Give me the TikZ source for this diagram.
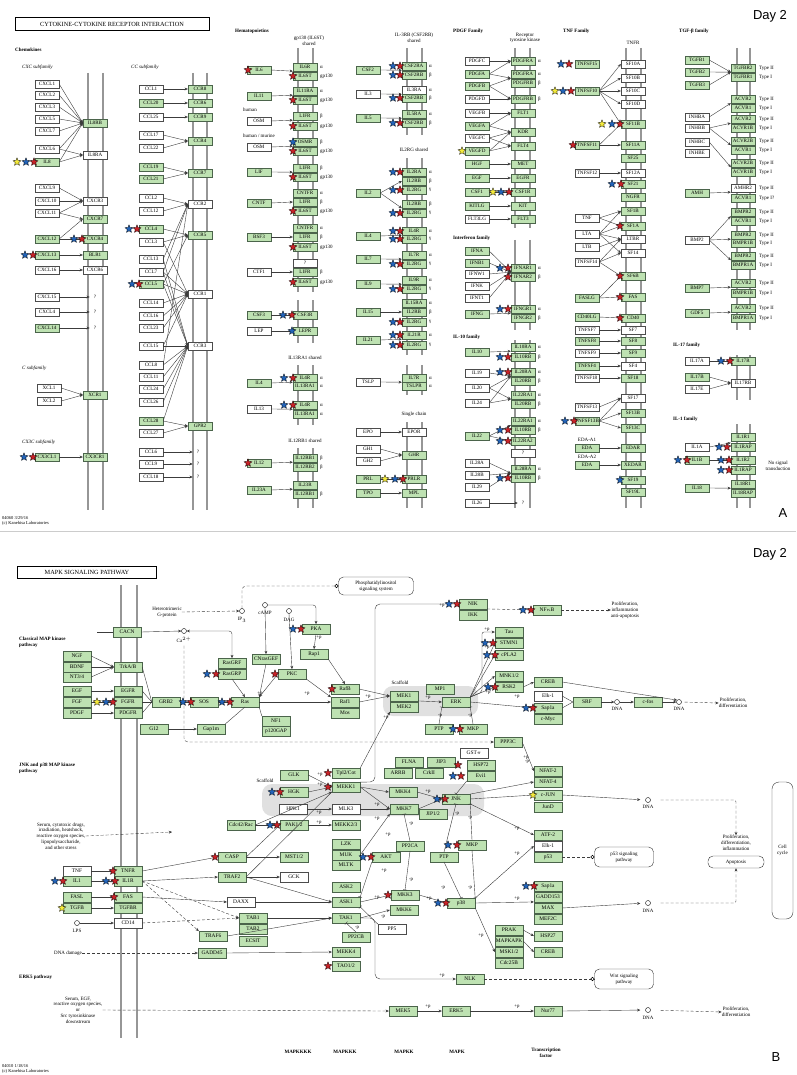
\documentclass[tikz,border=0pt]{standalone}
\usepackage{fontspec}
\setmainfont{Liberation Serif}
\newfontfamily\arialf{Liberation Sans}
\usetikzlibrary{arrows.meta}
\definecolor{kg}{RGB}{190,226,178}
\definecolor{kbd}{RGB}{75,100,75}
\definecolor{sr}{RGB}{200,35,40}
\definecolor{sb}{RGB}{35,100,185}
\definecolor{sy}{RGB}{245,235,60}
\definecolor{memc}{RGB}{150,150,150}
\definecolor{lnc}{RGB}{60,60,60}
\newcounter{lbc}
\newcommand\GB[4][tg]{\node[#1] (#2) at (#3) {#4};}
\newcommand\ST[3]{\filldraw[fill=#1,draw=black,line width=0.3pt] (#2,#3) +(-90:4.2) -- +(-54:1.8) -- +(-18:4.2) -- +(18:1.8) -- +(54:4.2) -- +(90:1.8) -- +(126:4.2) -- +(162:1.8) -- +(198:4.2) -- +(234:1.8) -- cycle;}
\newcommand\LB[3][lab]{\stepcounter{lbc}\node[#1] (lb\arabic{lbc}) at (#2) {#3};}
\newcommand\MEM[4]{\draw[meml] (#1,#3) -- (#1,#4); \draw[meml] (#2,#3) -- (#2,#4);}
\begin{document}
\begin{tikzpicture}[x=1pt,y=-1pt,
 tg/.style={draw=kbd,fill=kg,line width=0.35pt,minimum width=24pt,minimum height=8pt,inner sep=0pt,font=\fontsize{5.1}{5.4}\selectfont},
 tw/.style={tg,fill=white,draw=black!70},
 bg/.style={tg,minimum width=28pt,minimum height=9.5pt,font=\fontsize{5.4}{6}\selectfont},
 bw/.style={bg,fill=white,draw=black!70},
 lab/.style={font=\fontsize{5}{6}\selectfont,anchor=west,inner sep=0pt},
 pl/.style={font=\fontsize{4.8}{5}\selectfont,inner sep=0pt},
 txt/.style={font=\fontsize{5}{5.8}\selectfont,align=center,inner sep=0pt},
 hd/.style={font=\bfseries\fontsize{5}{5.8}\selectfont,anchor=west,inner sep=0pt,align=left},
 itx/.style={font=\itshape\fontsize{5}{6}\selectfont,anchor=west,inner sep=0pt},
 meml/.style={draw=memc,line width=1.4pt},
 ar/.style={draw=lnc,line width=0.4pt,-{Stealth[length=3.2pt,width=2.8pt]}},
 ln/.style={draw=lnc,line width=0.4pt},
 inh/.style={draw=lnc,line width=0.4pt,-{Bar[width=4pt]}},
 dsh/.style={ar,dash pattern=on 3pt off 2pt},
 dl/.style={ln,dash pattern=on 3pt off 2pt},
 cir/.style={circle,draw=black,fill=white,minimum size=5pt,inner sep=0pt,line width=0.4pt},
 scir/.style={circle,draw=black,fill=white,minimum size=3.5pt,inner sep=0pt,line width=0.4pt},
 rbox/.style={draw=black!80,rounded corners=5pt,fill=white,align=center,font=\fontsize{5}{5.8}\selectfont,line width=0.4pt,inner sep=1pt},
 qm/.style={font=\fontsize{5}{6}\selectfont,inner sep=0pt}]
\path[use as bounding box] (0,0) rectangle (796,1075);
\fill[white] (0,0) rectangle (796,1075);
\draw[black!20,line width=0.5pt] (0,531) -- (796,531);
% ================= PANEL A =================
\node[draw,line width=0.7pt,minimum width=194pt,minimum height=13pt,inner sep=0pt,font=\fontsize{6.3}{7}\selectfont] (ttlA) at (112,24) {CYTOKINE-CYTOKINE RECEPTOR INTERACTION};
\node[font=\arialf\fontsize{13}{14}\selectfont,inner sep=0pt] (dayA) at (770,16) {Day 2};
\node[font=\arialf\fontsize{13}{14}\selectfont,inner sep=0pt] (letA) at (783,513) {A};
\node[lab,align=left,font=\fontsize{4.5}{5}\selectfont] (footA) at (2,521) {04060 3/29/16\\(c) Kanehisa Laboratories};
\node[hd] (hchem) at (15,50) {Chemokines};
\node[itx] (hcxc) at (22,67) {CXC subfamily};
\node[itx] (hcc) at (131,67) {CC subfamily};
\node[itx] (hc) at (22,368) {C subfamily};
\node[itx] (hcx3c) at (22,442) {CX3C subfamily};
\node[hd] (hhem) at (235,31) {Hematopoietins};
\node[txt] (hgp) at (309,41) {gp130 (IL6ST)\\shared};
\node[txt] (hil3) at (414,38) {IL-3RB (CSF2RB)\\shared};
\node[txt] (hil2) at (414,150) {IL2RG shared};
\node[txt] (hil13) at (305,358) {IL13RA1 shared};
\node[txt] (hil12) at (305,441) {IL12RB1 shared};
\node[txt] (hsing) at (414,414) {Single chain};
\node[hd] (hpdgf) at (453,31) {PDGF Family};
\node[txt] (hrtk) at (525,38) {Receptor\\tyrosine kinase};
\node[hd] (hifn) at (453,238) {Interferon family};
\node[hd] (hil10) at (453,337) {IL-10 family};
\node[hd] (htnf) at (563,31) {TNF Family};
\node[txt] (htnfr) at (633,43) {TNFR};
\node[hd] (htgf) at (679,31) {TGF-β family};
\node[hd] (hil17) at (673,345) {IL-17 family};
\node[hd] (hil1) at (673,419) {IL-1 family};
\node[txt] (hnosig) at (778,466) {No signal\\transduction};
\node[lab] (hhum) at (243,110) {human};
\node[lab] (hhm) at (243,136) {human / murine};
\node[txt] (heda1) at (587,440) {EDA-A1};
\node[txt] (heda2) at (587,457) {EDA-A2};
% membranes
\MEM{88}{103}{73}{510}
\MEM{193}{207}{73}{510}
\MEM{298}{313}{48}{292}\MEM{298}{313}{300}{343}\MEM{298}{313}{365}{425}\MEM{298}{313}{448}{508}
\MEM{407}{422}{48}{135}\MEM{407}{422}{158}{355}\MEM{407}{422}{365}{395}\MEM{407}{422}{422}{508}
\MEM{515}{530}{48}{228}\MEM{515}{530}{240}{330}\MEM{515}{530}{340}{508}
\MEM{626}{641}{48}{508}
\MEM{737}{750}{48}{330}\MEM{737}{750}{355}{400}\MEM{737}{750}{424}{508}
% CXC
\GB[tw]{cxcl1}{47,84}{CXCL1}\GB[tw]{cxcl2}{47,95}{CXCL2}\GB[tw]{cxcl3}{47,107}{CXCL3}
\GB[tw]{cxcl5}{47,119}{CXCL5}\GB[tw]{cxcl7}{47,131}{CXCL7}\GB[tw]{cxcl6}{47,149}{CXCL6}
\GB{il8}{47,162}{IL8}\GB[tw]{cxcl9}{47,188}{CXCL9}\GB[tw]{cxcl10}{47,201}{CXCL10}
\GB[tw]{cxcl11}{47,213}{CXCL11}\GB{cxcl12}{47,239}{CXCL12}\GB{cxcl13}{47,255}{CXCL13}
\GB[tw]{cxcl16}{47,270}{CXCL16}\GB[tw]{cxcl15}{47,297}{CXCL15}\GB[tw]{cxcl4}{47,312}{CXCL4}
\GB{cxcl14}{47,328}{CXCL14}\GB[tw]{xcl1}{49,388}{XCL1}\GB[tw]{xcl2}{49,401}{XCL2}
\GB{cx3cl1}{47,457}{CX3CL1}
\GB{il8rb}{95,123}{IL8RB}\GB[tw]{il8ra}{95,155}{IL8RA}\GB[tw]{cxcr3}{95,201}{CXCR3}
\GB{cxcr7}{95,219}{CXCR7}\GB{cxcr4}{95,239}{CXCR4}\GB{blr1}{95,255}{BLR1}
\GB[tw]{cxcr6}{95,270}{CXCR6}\GB{xcr1}{95,395}{XCR1}\GB{cx3cr1}{95,457}{CX3CR1}
\node[qm] (qa1) at (95,297) {?};\node[qm] (qa2) at (95,312) {?};\node[qm] (qa3) at (95,328) {?};
\foreach \a in {cxcl1,cxcl2,cxcl3,cxcl5,cxcl7,cxcl6,il8}{\draw[ar] (\a.east) -- (il8rb.west);}
\foreach \a in {cxcl6,il8}{\draw[ar] (\a.east) -- (il8ra.west);}
\foreach \a in {cxcl9,cxcl10,cxcl11}{\draw[ar] (\a.east) -- (cxcr3.west);}
\foreach \a in {cxcl11,cxcl12}{\draw[ar] (\a.east) -- (cxcr7.west);}
\draw[ar] (cxcl12.east) -- (cxcr4.west);\draw[ar] (cxcl13.east) -- (blr1.west);
\draw[ar] (cxcl16.east) -- (cxcr6.west);
\draw[ar,shorten >=4pt] (cxcl15.east) -- (qa1.west);\draw[ar,shorten >=4pt] (cxcl4.east) -- (qa2.west);\draw[ar,shorten >=4pt] (cxcl14.east) -- (qa3.west);
\foreach \a in {xcl1,xcl2}{\draw[ar] (\a.east) -- (xcr1.west);}
\draw[ar] (cx3cl1.east) -- (cx3cr1.west);
% CC
\GB[tw]{ccl1}{151,89}{CCL1}\GB{ccl20}{151,103}{CCL20}\GB[tw]{ccl25}{151,117}{CCL25}
\GB[tw]{ccl17}{151,135}{CCL17}\GB[tw]{ccl22}{151,148}{CCL22}\GB{ccl19}{151,167}{CCL19}
\GB{ccl21}{151,179}{CCL21}\GB[tw]{ccl2}{151,198}{CCL2}\GB[tw]{ccl12}{151,211}{CCL12}
\GB{ccl4}{151,229}{CCL4}\GB[tw]{ccl3}{151,242}{CCL3}\GB[tw]{ccl13}{151,259}{CCL13}
\GB[tw]{ccl7}{151,272}{CCL7}\GB{ccl5}{151,284}{CCL5}\GB[tw]{ccl14}{151,303}{CCL14}
\GB[tw]{ccl16}{151,316}{CCL16}\GB[tw]{ccl23}{151,328}{CCL23}\GB[tw]{ccl15}{151,346}{CCL15}
\GB[tw]{ccl8}{151,365}{CCL8}\GB[tw]{ccl11}{151,377}{CCL11}\GB[tw]{ccl24}{151,389}{CCL24}
\GB[tw]{ccl26}{151,402}{CCL26}\GB{ccl28}{151,421}{CCL28}\GB[tw]{ccl27}{151,433}{CCL27}
\GB[tw]{ccl6}{151,452}{CCL6}\GB[tw]{ccl9}{151,464}{CCL9}\GB[tw]{ccl18}{151,477}{CCL18}
\GB{ccr8}{200,89}{CCR8}\GB{ccr6}{200,103}{CCR6}\GB{ccr9}{200,117}{CCR9}\GB{ccr4}{200,141}{CCR4}
\GB{ccr7}{200,173}{CCR7}\GB[tw]{ccr2}{200,204}{CCR2}\GB{ccr5}{200,235}{CCR5}
\GB[tw]{ccr1}{200,294}{CCR1}\GB[tw]{ccr3}{200,346}{CCR3}\GB{gpr2}{200,426}{GPR2}
\node[qm] (qc1) at (198,452) {?};\node[qm] (qc2) at (198,464) {?};\node[qm] (qc3) at (198,477) {?};
\draw[ar] (ccl1.east) -- (ccr8.west);\draw[ar] (ccl20.east) -- (ccr6.west);\draw[ar] (ccl25.east) -- (ccr9.west);
\foreach \a in {ccl17,ccl22}{\draw[ar] (\a.east) -- (ccr4.west);}
\foreach \a in {ccl19,ccl21}{\draw[ar] (\a.east) -- (ccr7.west);}
\foreach \a in {ccl2,ccl12,ccl7,ccl13,ccl8}{\draw[ar] (\a.east) -- (ccr2.west);}
\foreach \a in {ccl4,ccl3,ccl5}{\draw[ar] (\a.east) -- (ccr5.west);}
\foreach \a in {ccl3,ccl5,ccl7,ccl14,ccl15,ccl16,ccl23}{\draw[ar] (\a.east) -- (ccr1.west);}
\foreach \a in {ccl5,ccl7,ccl8,ccl11,ccl13,ccl15,ccl24,ccl26,ccl28}{\draw[ar] (\a.east) -- (ccr3.west);}
\foreach \a in {ccl28,ccl27}{\draw[ar] (\a.east) -- (gpr2.west);}
\draw[ar,shorten >=4pt] (ccl6.east) -- (qc1.west);\draw[ar,shorten >=4pt] (ccl9.east) -- (qc2.west);\draw[ar,shorten >=4pt] (ccl18.east) -- (qc3.west);
% Hematopoietins gp130
\GB{il6}{259,70}{IL6}\GB{il11}{259,96}{IL11}\GB[tw]{osm1}{259,121}{OSM}\GB[tw]{osm2}{259,147}{OSM}
\GB{lif}{259,172}{LIF}\GB{cntf}{259,203}{CNTF}\GB{bsf3}{259,237}{BSF3}\GB[tw]{ctf1}{259,272}{CTF1}
\GB{csf3}{259,315}{CSF3}\GB[tw]{lep}{259,331}{LEP}\GB{il4a}{259,383}{IL4}\GB[tw]{il13}{259,409}{IL13}
\GB{il12}{259,463}{IL12}\GB{il23a}{259,490}{IL23A}
\GB{il6r}{305,67}{IL6R}\GB{il6st1}{305,76}{IL6ST}\GB{il11ra}{305,91}{IL11RA}\GB{il6st2}{305,100}{IL6ST}
\GB{lifr1}{305,116}{LIFR}\GB{il6st3}{305,126}{IL6ST}\GB{osmr}{305,142}{OSMR}\GB{il6st4}{305,151}{IL6ST}
\GB{lifr2}{305,168}{LIFR}\GB{il6st5}{305,177}{IL6ST}\GB{cntfr1}{305,193}{CNTFR}\GB{lifr3}{305,202}{LIFR}
\GB{il6st6}{305,211}{IL6ST}\GB{cntfr2}{305,228}{CNTFR}\GB{lifr4}{305,237}{LIFR}\GB{il6st7}{305,247}{IL6ST}
\GB[tw]{qh}{305,263}{?}\GB{lifr5}{305,272}{LIFR}\GB{il6st8}{305,282}{IL6ST}
\GB{csf3r}{305,315}{CSF3R}\GB{lepr}{305,331}{LEPR}
\GB{il4r1}{305,378}{IL4R}\GB{il13ra1a}{305,386}{IL13RA1}\GB{il4r2}{305,405}{IL4R}\GB{il13ra1b}{305,414}{IL13RA1}
\GB{il12rb1a}{305,458}{IL12RB1}\GB{il12rb2}{305,467}{IL12RB2}\GB{il23r}{305,485}{IL23R}\GB{il12rb1b}{305,494}{IL12RB1}
\draw[ar] (il6.east) -- (il6r.south west);\draw[ar] (il11.east) -- (il11ra.south west);
\draw[ar] (osm1.east) -- (lifr1.south west);\draw[ar] (osm2.east) -- (osmr.south west);
\draw[ar] (lif.east) -- (lifr2.south west);\draw[ar] (cntf.east) -- (lifr3.west);
\draw[ar] (bsf3.east) -- (lifr4.west);\draw[ar] (ctf1.east) -- (lifr5.west);
\draw[ar] (csf3.east) -- (csf3r.west);\draw[ar] (lep.east) -- (lepr.west);
\draw[ar] (il4a.east) -- (il4r1.south west);\draw[ar] (il13.east) -- (il4r2.south west);
\draw[ar] (il12.east) -- (il12rb1a.south west);\draw[ar] (il23a.east) -- (il23r.south west);
\foreach \y/\t in {67/α,76/gp130,91/α,100/gp130,116/β,126/gp130,142/β,151/gp130,168/β,177/gp130,193/α,202/β,211/gp130,228/α,237/β,247/gp130,272/β,282/gp130,378/α,386/α,405/α,414/α,458/β,467/β,494/β}{\LB{320,\y}{\t}}
% IL-3RB / IL2RG
\GB{csf2}{368,70}{CSF2}\GB[tw]{il3}{368,94}{IL3}\GB{il5}{368,118}{IL5}\GB{il2}{368,193}{IL2}
\GB{il4b}{368,236}{IL4}\GB{il7}{368,259}{IL7}\GB{il9}{368,284}{IL9}\GB{il15}{368,312}{IL15}
\GB{il21}{368,340}{IL21}\GB[tw]{tslp}{368,382}{TSLP}\GB[tw]{epo}{368,432}{EPO}
\GB[tw]{gh1}{368,449}{GH1}\GB[tw]{gh2}{368,461}{GH2}\GB{prl}{368,479}{PRL}\GB{tpo}{368,493}{TPO}
\GB{csf2ra}{414,66}{CSF2RA}\GB{csf2rb1}{414,75}{CSF2RB}\GB[tw]{il3ra}{414,90}{IL3RA}\GB{csf2rb2}{414,98}{CSF2RB}
\GB{il5ra}{414,114}{IL5RA}\GB{csf2rb3}{414,123}{CSF2RB}
\GB{il2ra}{414,172}{IL2RA}\GB{il2rb1}{414,181}{IL2RB}\GB{il2rg1}{414,190}{IL2RG}
\GB{il2rb2}{414,204}{IL2RB}\GB{il2rg2}{414,213}{IL2RG}\GB{il4r3}{414,231}{IL4R}\GB{il2rg3}{414,239}{IL2RG}
\GB{il7r1}{414,255}{IL7R}\GB{il2rg4}{414,264}{IL2RG}\GB{il9r}{414,280}{IL9R}\GB{il2rg5}{414,289}{IL2RG}
\GB{il15ra}{414,303}{IL15RA}\GB{il2rb3}{414,312}{IL2RB}\GB{il2rg6}{414,322}{IL2RG}
\GB{il21r}{414,335}{IL21R}\GB{il2rg7}{414,345}{IL2RG}\GB{il7r2}{414,378}{IL7R}\GB{tslpr}{414,386}{TSLPR}
\GB[tw]{epor}{414,432}{EPOR}\GB{ghr}{414,455}{GHR}\GB{prlr}{414,479}{PRLR}\GB{mpl}{414,493}{MPL}
\draw[ar] (csf2.east) -- (csf2ra.south west);\draw[ar] (il3.east) -- (il3ra.south west);
\draw[ar] (il5.east) -- (il5ra.south west);\draw[ar] (il2.east) -- (il2rb1.west);
\draw[ar] (il2.east) -- (il2rb2.south west);\draw[ar] (il4b.east) -- (il4r3.south west);
\draw[ar] (il7.east) -- (il7r1.south west);\draw[ar] (il9.east) -- (il9r.south west);
\draw[ar] (il15.east) -- (il2rb3.west);\draw[ar] (il21.east) -- (il21r.south west);
\draw[ar] (tslp.east) -- (il7r2.south west);\draw[ar] (epo.east) -- (epor.west);
\draw[ar] (gh1.east) -- (ghr.west);\draw[ar] (gh2.east) -- (ghr.west);
\draw[ar] (prl.east) -- (prlr.west);\draw[ar] (tpo.east) -- (mpl.west);
\foreach \y/\t in {66/α,75/β,90/α,98/β,114/α,123/β,172/α,181/β,190/γ,204/β,213/γ,231/α,239/γ,255/α,264/γ,280/α,289/γ,303/α,312/β,322/γ,335/α,345/γ,378/α,386/α}{\LB{429,\y}{\t}}
% PDGF / IFN / IL10
\GB[tw]{pdgfc}{477,61}{PDGFC}\GB{pdgfa}{477,74}{PDGFA}\GB{pdgfb}{477,86}{PDGFB}\GB[tw]{pdgfd}{477,99}{PDGFD}
\GB[tw]{vegfb}{477,113}{VEGFB}\GB{vegfa}{477,126}{VEGFA}\GB[tw]{vegfc}{477,138}{VEGFC}\GB{vegfd}{477,151}{VEGFD}
\GB{hgf}{477,164}{HGF}\GB{egf}{477,178}{EGF}\GB{csf1}{477,192}{CSF1}\GB{kitlg}{477,206}{KITLG}\GB[tw]{flt3lg}{477,219}{FLT3LG}
\GB{ifna}{477,251}{IFNA}\GB{ifnb1}{477,263}{IFNB1}\GB[tw]{ifnw1}{477,274}{IFNW1}\GB[tw]{ifnk}{477,286}{IFNK}
\GB[tw]{ifnt1}{477,298}{IFNT1}\GB{ifng}{477,314}{IFNG}
\GB{il10}{477,352}{IL10}\GB[tw]{il19}{477,373}{IL19}\GB[tw]{il20}{477,388}{IL20}\GB[tw]{il24}{477,403}{IL24}
\GB{il22}{477,436}{IL22}\GB[tw]{il28a}{477,463}{IL28A}\GB[tw]{il28b}{477,475}{IL28B}\GB[tw]{il29}{477,487}{IL29}\GB[tw]{il26}{477,503}{IL26}
\GB{pdgfra1}{523,61}{PDGFRA}\GB{pdgfra2}{523,74}{PDGFRA}\GB{pdgfrb1}{523,83}{PDGFRB}\GB{pdgfrb2}{523,99}{PDGFRB}
\GB{flt1}{523,113}{FLT1}\GB{kdr}{523,132}{KDR}\GB{flt4}{523,146}{FLT4}\GB{met}{523,164}{MET}
\GB{egfr}{523,178}{EGFR}\GB{csf1r}{523,192}{CSF1R}\GB{kit}{523,206}{KIT}\GB{flt3}{523,219}{FLT3}
\GB{ifnar1}{523,268}{IFNAR1}\GB{ifnar2}{523,277}{IFNAR2}\GB{ifngr1}{523,309}{IFNGR1}\GB{ifngr2}{523,318}{IFNGR2}
\GB{il10ra}{523,347}{IL10RA}\GB{il10rb1}{523,357}{IL10RB}\GB{il20ra1}{523,372}{IL20RA}\GB{il20rb1}{523,381}{IL20RB}
\GB{il22ra1a}{523,395}{IL22RA1}\GB{il20rb2}{523,404}{IL20RB}\GB{il22ra1b}{523,421}{IL22RA1}\GB{il10rb2}{523,430}{IL10RB}
\GB{il22ra2}{523,441}{IL22RA2}\GB[tw]{qp}{523,453}{?}\GB{il28ra}{523,469}{IL28RA}\GB{il10rb3}{523,478}{IL10RB}
\node[qm] (qp2) at (523,503) {?};
\draw[ar] (pdgfc.east) -- (pdgfra1.west);\draw[ar] (pdgfa.east) -- (pdgfra1.west);
\draw[ar] (pdgfa.east) -- (pdgfra2.south west);\draw[ar] (pdgfb.east) -- (pdgfra2.south west);
\draw[ar] (pdgfb.east) -- (pdgfrb2.west);\draw[ar] (pdgfd.east) -- (pdgfrb2.west);
\draw[ar] (vegfb.east) -- (flt1.west);\draw[ar] (vegfa.east) -- (flt1.west);\draw[ar] (vegfa.east) -- (kdr.west);
\draw[ar] (vegfc.east) -- (kdr.west);\draw[ar] (vegfc.east) -- (flt4.west);\draw[ar] (vegfd.east) -- (kdr.west);
\draw[ar] (vegfd.east) -- (flt4.west);\draw[ar] (hgf.east) -- (met.west);\draw[ar] (egf.east) -- (egfr.west);
\draw[ar] (csf1.east) -- (csf1r.west);\draw[ar] (kitlg.east) -- (kit.west);\draw[ar] (flt3lg.east) -- (flt3.west);
\foreach \a in {ifna,ifnb1,ifnw1,ifnk,ifnt1}{\draw[ar] (\a.east) -- (ifnar1.south west);}
\draw[ar] (ifng.east) -- (ifngr1.south west);\draw[ar] (il10.east) -- (il10ra.south west);
\foreach \a in {il19,il20,il24}{\draw[ar] (\a.east) -- (il20ra1.south west);}
\foreach \a in {il20,il24}{\draw[ar] (\a.east) -- (il22ra1a.south west);}
\draw[ar] (il22.east) -- (il22ra1b.south west);\draw[ar] (il22.east) -- (il22ra2.west);
\foreach \a in {il28a,il28b,il29}{\draw[ar] (\a.east) -- (il28ra.south west);}
\draw[ar,shorten >=4pt] (il26.east) -- (qp2.west);
\foreach \y/\t in {61/α,74/α,83/β,99/β,268/α,277/β,309/α,318/β,347/α,357/β,372/α,381/β,395/α,404/β,421/α,430/β,469/α,478/β}{\LB{538,\y}{\t}}
% TNF
\GB{tnfsf15}{587,64}{TNFSF15}\GB{tnfsf10}{587,91}{TNFSF10}\GB{tnfsf11}{587,145}{TNFSF11}
\GB[tw]{tnfsf12}{587,173}{TNFSF12}\GB[tw]{tnf}{587,218}{TNF}\GB[tw]{lta}{587,234}{LTA}\GB[tw]{ltb}{587,247}{LTB}
\GB[tw]{tnfsf14}{587,262}{TNFSF14}\GB{faslg}{587,298}{FASLG}\GB{cd40lg}{587,317}{CD40LG}
\GB[tw]{tnfsf7}{587,330}{TNFSF7}\GB{tnfsf8}{587,341}{TNFSF8}\GB[tw]{tnfsf9}{587,353}{TNFSF9}
\GB{tnfsf4}{587,366}{TNFSF4}\GB[tw]{tnfsf18}{587,378}{TNFSF18}\GB[tw]{tnfsf13}{587,407}{TNFSF13}
\GB{tnfsf13b}{587,421}{TNFSF13B}\GB{eda1}{587,448}{EDA}\GB{eda2}{587,465}{EDA}
\GB[tw]{sf10a}{633,64}{SF10A}\GB[tw]{sf10b}{633,78}{SF10B}\GB[tw]{sf10c}{633,91}{SF10C}\GB[tw]{sf10d}{633,104}{SF10D}
\GB{sf11b}{633,124}{SF11B}\GB{sf11a}{633,145}{SF11A}\GB{sf25}{633,158}{SF25}\GB[tw]{sf12a}{633,173}{SF12A}
\GB{sf21}{633,184}{SF21}\GB{ngfr}{633,197}{NGFR}\GB{sf1b}{633,211}{SF1B}\GB{sf1a}{633,226}{SF1A}
\GB[tw]{ltbr}{633,239}{LTBR}\GB[tw]{sf14}{633,253}{SF14}\GB{sf6b}{633,276}{SF6B}\GB{fas}{633,297}{FAS}
\GB{cd40}{633,318}{CD40}\GB[tw]{sf7}{633,330}{SF7}\GB{sf8}{633,341}{SF8}\GB{sf9}{633,353}{SF9}
\GB[tw]{sf4}{633,366}{SF4}\GB{sf18}{633,378}{SF18}\GB[tw]{sf17}{633,398}{SF17}\GB{sf13b}{633,413}{SF13B}
\GB{sf13c}{633,428}{SF13C}\GB{edar}{633,448}{EDAR}\GB{xedar}{633,465}{XEDAR}\GB{sf19}{633,480}{SF19}\GB{sf19l}{633,492}{SF19L}
\foreach \b in {sf10a,sf10b,sf10c,sf10d,sf11b}{\draw[ar] (tnfsf10.east) -- (\b.west);}
\foreach \b in {sf11b,sf11a}{\draw[ar] (tnfsf11.east) -- (\b.west);}
\draw[ar] (tnfsf12.east) -- (sf12a.west);
\foreach \b in {sf1b,sf1a}{\draw[ar] (tnf.east) -- (\b.west);}
\foreach \b in {sf1b,sf1a,ltbr,sf14}{\draw[ar] (lta.east) -- (\b.west);}
\draw[ar] (ltb.east) -- (ltbr.west);
\foreach \b in {ltbr,sf14,sf6b}{\draw[ar] (tnfsf14.east) -- (\b.west);}
\foreach \b in {sf6b,fas}{\draw[ar] (faslg.east) -- (\b.west);}
\draw[ar] (cd40lg.east) -- (cd40.west);\draw[ar] (tnfsf7.east) -- (sf7.west);\draw[ar] (tnfsf8.east) -- (sf8.west);
\draw[ar] (tnfsf9.east) -- (sf9.west);\draw[ar] (tnfsf4.east) -- (sf4.west);\draw[ar] (tnfsf18.east) -- (sf18.west);
\draw[ar] (tnfsf13.east) -- (sf17.west);
\foreach \b in {sf17,sf13b,sf13c}{\draw[ar] (tnfsf13b.east) -- (\b.west);}
\draw[ar] (eda1.east) -- (edar.west);\draw[ar] (eda2.east) -- (xedar.west);
% TGF-beta, IL-17, IL-1
\GB{tgfb1}{697,60}{TGFB1}\GB{tgfb2}{697,72}{TGFB2}\GB{tgfb3}{697,85}{TGFB3}
\GB[tw]{inhba}{697,117}{INHBA}\GB[tw]{inhbb}{697,128}{INHBB}\GB[tw]{inhbc}{697,142}{INHBC}\GB[tw]{inhbe}{697,153}{INHBE}
\GB{amh}{697,193}{AMH}\GB[tw]{bmp2}{697,240}{BMP2}\GB{bmp7}{697,288}{BMP7}\GB{gdf5}{697,313}{GDF5}
\GB[tw]{il17a}{697,361}{IL17A}\GB{il17b}{697,377}{IL17B}\GB[tw]{il17e}{697,389}{IL17E}
\GB[tw]{il1a}{697,447}{IL1A}\GB{il1b}{697,460}{IL1B}\GB{il18}{697,488}{IL18}
\GB{tgfbr2}{743,68}{TGFBR2}\GB{tgfbr1}{743,77}{TGFBR1}\GB{acvr2a}{743,99}{ACVR2}\GB{acvr1a}{743,108}{ACVR1}
\GB{acvr2b}{743,119}{ACVR2}\GB{acvr1b1}{743,128}{ACVR1B}\GB{acvr2b2}{743,141}{ACVR2B}\GB{acvr1c}{743,150}{ACVR1}
\GB{acvr2b3}{743,163}{ACVR2B}\GB{acvr1b2}{743,172}{ACVR1B}\GB[tw]{amhr2}{743,188}{AMHR2}\GB{acvr1d}{743,198}{ACVR1}
\GB{bmpr2a}{743,212}{BMPR2}\GB{acvr1e}{743,221}{ACVR1}\GB{bmpr2b}{743,235}{BMPR2}\GB{bmpr1b1}{743,243}{BMPR1B}
\GB{bmpr2c}{743,256}{BMPR2}\GB{bmpr1a1}{743,265}{BMPR1A}\GB{acvr2c}{743,283}{ACVR2}\GB{bmpr1b2}{743,293}{BMPR1B}
\GB{acvr2d}{743,308}{ACVR2}\GB{bmpr1a2}{743,318}{BMPR1A}
\GB{il17r}{743,361}{IL17R}\GB[tw]{il17rb}{743,383}{IL17RB}
\GB{il1r1}{743,437}{IL1R1}\GB{il1rap1}{743,447}{IL1RAP}\GB{il1r2}{743,460}{IL1R2}\GB{il1rap2}{743,470}{IL1RAP}
\GB{il18r1}{743,484}{IL18R1}\GB{il18rap}{743,493}{IL18RAP}
\foreach \a in {tgfb1,tgfb2,tgfb3}{\draw[ar] (\a.east) -- (tgfbr2.south west);}
\draw[ar] (inhba.east) -- (acvr2a.south west);\draw[ar] (inhbb.east) -- (acvr2b.south west);
\draw[ar] (inhbb.east) -- (acvr2b2.south west);\draw[ar] (inhbc.east) -- (acvr2b3.south west);
\draw[ar] (amh.east) -- (amhr2.south west);
\foreach \b in {bmpr2a,bmpr2b,bmpr2c}{\draw[ar] (bmp2.east) -- (\b.south west);}
\draw[ar] (bmp7.east) -- (acvr2c.south west);\draw[ar] (gdf5.east) -- (acvr2d.south west);
\draw[ar] (il17a.east) -- (il17r.west);\draw[ar] (il17b.east) -- (il17rb.west);\draw[ar] (il17e.east) -- (il17rb.west);
\draw[ar] (il1a.east) -- (il1rap1.north west);\draw[ar] (il1b.east) -- (il1r2.west);\draw[ar] (il18.east) -- (il18r1.south west);
\foreach \y/\t in {68/Type II,77/Type I,99/Type II,108/Type I,119/Type II,128/Type I,141/Type II,150/Type I,163/Type II,172/Type I,188/Type II,198/Type I?,212/Type II,221/Type I,235/Type II,243/Type I,256/Type II,265/Type I,283/Type II,293/Type I,308/Type II,318/Type I}{\LB{759,\y}{\t}}
% stars panel A
\ST{sy}{17}{162}\ST{sb}{26}{162}\ST{sr}{34}{162}
\ST{sb}{74}{239}\ST{sr}{82}{239}\ST{sb}{25}{255}\ST{sr}{33}{255}\ST{sb}{24}{457}\ST{sr}{33}{457}
\ST{sb}{129}{229}\ST{sr}{137}{229}\ST{sb}{132}{284}\ST{sr}{139}{284}
\ST{sr}{248}{70}\ST{sr}{248}{463}
\foreach \y in {76,100,126,151,177,211,247,282}{\ST{sr}{293}{\y}}
\ST{sb}{293}{142}\ST{sb}{283}{315}\ST{sr}{292}{315}\ST{sb}{292}{331}
\ST{sb}{284}{378}\ST{sr}{293}{378}\ST{sb}{284}{405}\ST{sr}{293}{405}
\foreach \y in {66,75,98,123,172,190,213,231,239,264,289,322,335,345}{\ST{sb}{393}{\y}\ST{sr}{400}{\y}}
\ST{sy}{385}{479}\ST{sb}{395}{479}\ST{sr}{403}{479}
\ST{sy}{462}{151}\ST{sy}{493}{192}\ST{sb}{501}{192}\ST{sr}{509}{192}
\foreach \y in {268,309,357,372,430,441,478}{\ST{sb}{500}{\y}\ST{sr}{508}{\y}}
\ST{sr}{508}{277}
\ST{sb}{561}{64}\ST{sr}{569}{64}\ST{sy}{555}{91}\ST{sb}{563}{91}\ST{sr}{571}{91}\ST{sr}{573}{145}
\ST{sb}{565}{421}\ST{sr}{574}{421}
\ST{sy}{602}{124}\ST{sb}{612}{124}\ST{sr}{620}{124}\ST{sb}{612}{184}\ST{sr}{621}{184}
\foreach \y in {226,276,297,318}{\ST{sr}{620}{\y}}
\ST{sb}{620}{480}
\ST{sb}{721}{361}\ST{sr}{730}{361}\ST{sb}{719}{447}\ST{sr}{727}{447}
\ST{sb}{678}{460}\ST{sr}{687}{460}\ST{sb}{721}{460}\ST{sr}{729}{460}\ST{sb}{721}{470}\ST{sr}{729}{470}
% ================= PANEL B =================
\node[draw,line width=0.7pt,minimum width=139pt,minimum height=12pt,inner sep=0pt,font=\fontsize{6.3}{7}\selectfont] (ttlB) at (87,572) {MAPK SIGNALING PATHWAY};
\node[font=\arialf\fontsize{13}{14}\selectfont,inner sep=0pt] (dayB) at (770,554) {Day 2};
\node[font=\arialf\fontsize{13}{14}\selectfont,inner sep=0pt] (letB) at (776,1057) {B};
\node[lab,align=left,font=\fontsize{4.5}{5}\selectfont] (footB) at (2,1069) {04010 1/18/16\\(c) Kanehisa Laboratories};
\fill[black!12,rounded corners=10pt] (383,686) rectangle (478,716);
\fill[black!12,rounded corners=10pt] (262,784) rectangle (484,816);
\MEM{121}{137}{585}{1038}
\node[hd] (hcl) at (19,642) {Classical MAP kinase\\pathway};
\node[hd] (hjnk) at (19,768) {JNK and p38 MAP kinase\\pathway};
\node[hd] (herk5) at (19,977) {ERK5 pathway};
\node[txt] (hetero) at (167,612) {Heterotrimeric\\G-protein};
\node[txt] (stress) at (61,836) {Serum, cytotoxic drugs,\\irradiation, heatshock,\\reactive oxygen species,\\lipopolysaccharide,\\and other stress};
\node[txt] (dnad) at (68,953) {DNA damage};
\node[txt] (serum) at (78,1010) {Serum, EGF,\\reactive oxygen species,\\or\\Src tyrosinkinase\\downstream};
\node[txt] (scaf1) at (400,683) {Scaffold};
\node[txt] (scaf2) at (265,781) {Scaffold};
\node[txt] (prolif1) at (625,610) {Proliferation,\\inflammation\\anti-apoptosis};
\node[txt] (prolif2) at (733,703) {Proliferation,\\differentiation};
\node[txt] (prolif3) at (736,843) {Proliferation,\\differentiation,\\inflammation};
\node[txt] (prolif4) at (736,1012) {Proliferation,\\differentiation};
\node[rbox,minimum width=56pt,minimum height=12pt] (apop) at (736,862) {Apoptosis};
\node[rbox,minimum width=21pt,minimum height=137pt,rounded corners=7pt] (cellc) at (782.5,850.5) {Cell\\cycle};
\node[rbox,minimum width=75pt,minimum height=18pt] (phos) at (376,586) {Phosphatidylinositol\\signaling system};
\node[rbox,minimum width=59pt,minimum height=20pt] (p53sig) at (624,857) {p53 signaling\\pathway};
\node[rbox,minimum width=59pt,minimum height=20pt] (wnt) at (624,979) {Wnt signaling\\pathway};
\foreach \x/\t in {298/MAPKKKK,345/MAPKKK,404/MAPKK,457/MAPK}{\LB[hd,anchor=center]{\x,1052}{\t}}
\node[hd,anchor=center,align=center] (htf) at (546,1053) {Transcription\\factor};
% small molecules
\node[cir] (ip3) at (242,611) {};\node[txt] (lip3) at (242,620) {IP$_3$};
\node[cir] (ca) at (184,631) {};\node[txt] (lca) at (184,640) {Ca$^{2+}$};
\node[cir] (camp) at (265,605) {};\node[txt] (lcamp) at (265,613) {cAMP};
\node[cir] (dag) at (289,611) {};\node[txt] (ldag) at (289,620) {DAG};
\node[cir] (lps) at (77,923) {};\node[txt] (llps) at (77,931) {LPS};
\node[cir] (dna1) at (617,702) {};\node[txt] (ldna1) at (617,709) {DNA};
\node[cir] (dna2) at (679,702) {};\node[txt] (ldna2) at (679,709) {DNA};
\node[cir] (dna3) at (648,800) {};\node[txt] (ldna3) at (648,807) {DNA};
\node[cir] (dna4) at (648,903) {};\node[txt] (ldna4) at (648,911) {DNA};
\node[cir] (dna5) at (648,1010) {};\node[txt] (ldna5) at (648,1018) {DNA};
\coordinate (cain) at (97,632);
\coordinate (stressend) at (172,832);
% genes
\GB[bg]{cacn}{127,632}{CACN}\GB[bg]{ngf}{77,656}{NGF}\GB[bg]{bdnf}{77,667}{BDNF}\GB[bg]{nt34}{77,677}{NT3/4}
\GB[bg]{trkab}{128,667}{TrkA/B}\GB[bg]{egf2}{77,691}{EGF}\GB[bg]{fgf}{77,702}{FGF}\GB[bg]{pdgf}{77,713}{PDGF}
\GB[bg]{egfrb}{128,691}{EGFR}\GB[bg]{fgfr}{128,702}{FGFR}\GB[bg]{pdgfr}{128,713}{PDGFR}
\GB[bg]{grb2}{166,702}{GRB2}\GB[bg]{sos}{204,702}{SOS}\GB[bg]{ras}{245,702}{Ras}
\GB[bg]{g12}{154,729}{G12}\GB[bg]{gap1m}{211,729}{Gap1m}
\GB[bg]{rasgrf}{232,663}{RasGRF}\GB[bg]{rasgrp}{232,674}{RasGRP}\GB[bg]{cnrasgef}{266,659}{CNrasGEF}
\GB[bg]{pka}{316,629}{PKA}\GB[bg]{rap1}{314,654}{Rap1}\GB[bg]{pkc}{292,674}{PKC}
\GB[bg]{rafb}{345,689}{RafB}\GB[bg]{raf1}{345,702}{Raf1}\GB[bg]{mos}{345,713}{Mos}
\GB[bg]{nf1}{276,721}{NF1}\GB[bg]{p120gap}{276,731}{p120GAP}
\GB[bg]{mek1}{404,696}{MEK1}\GB[bg]{mek2}{404,707}{MEK2}\GB[bg]{mp1}{440,689}{MP1}\GB[bg]{erk}{456,702}{ERK}
\GB[bg]{ptp1}{439,729}{PTP}\GB[bg]{mkp1}{473,729}{MKP}
\GB[bg]{nik}{473,604}{NIK}\GB[bg]{ikk}{473,615}{IKK}\GB[bg]{nfkb}{547,610}{NF$\kappa$B}
\GB[bg]{tau}{509,632}{Tau}\GB[bg]{stmn1}{509,643}{STMN1}\GB[bg]{cpla2}{509,655}{cPLA2}
\GB[bg]{mnk12}{509,676}{MNK1/2}\GB[bg]{rsk2}{509,687}{RSK2}
\GB[bg]{creb1}{548,682}{CREB}\GB[bw]{elk1a}{548,696}{Elk-1}\GB[bg]{sap1a1}{548,708}{Sap1a}\GB[bg]{cmyc}{548,719}{c-Myc}
\GB[bg]{srf}{587,702}{SRF}\GB[bg]{cfos}{648,702}{c-fos}
\GB[bg]{ppp3c}{508,742}{PPP3C}
\GB[bg]{nfat2}{548,771}{NFAT-2}\GB[bg]{nfat4}{548,782}{NFAT-4}\GB[bg]{cjun}{548,795}{c-JUN}\GB[bg]{jund}{548,807}{JunD}
\GB[bg]{atf2}{548,835}{ATF-2}\GB[bw]{elk1b}{548,846}{Elk-1}\GB[bg]{p53}{548,857}{p53}
\GB[bg]{sap1a2}{548,886}{Sap1a}\GB[bg]{gadd153}{548,897}{GADD153}\GB[bg]{max}{548,908}{MAX}\GB[bg]{mef2c}{548,919}{MEF2C}
\GB[bg]{hsp27}{548,936}{HSP27}\GB[bg]{creb2}{548,952}{CREB}\GB[bg]{nur77}{548,1011}{Nur77}
\GB[bg]{mek5}{403,1011}{MEK5}\GB[bg]{erk5}{456,1011}{ERK5}\GB[bg]{nlk}{470,979}{NLK}
\GB[bw]{tnfL}{77,871}{TNF}\GB[bg]{il1}{77,881}{IL1}\GB[bg]{fasl}{77,897}{FASL}\GB[bg]{tgfb}{77,908}{TGFB}
\GB[bg]{tnfr}{128,871}{TNFR}\GB[bg]{il1r}{128,881}{IL1R}\GB[bg]{fas2}{128,897}{FAS}\GB[bg]{tgfbr}{128,908}{TGFBR}\GB[bw]{cd14}{128,923}{CD14}
\GB[bg]{cdc42}{241,825}{Cdc42/Rac}\GB[bg]{casp}{232,857}{CASP}\GB[bg]{traf2}{232,877}{TRAF2}\GB[bw]{daxx}{241,902}{DAXX}
\GB[bg]{tab1}{253,918}{TAB1}\GB[bg]{tab2}{253,929}{TAB2}\GB[bg]{ecsit}{253,941}{ECSIT}\GB[bg]{traf6}{213,936}{TRAF6}\GB[bg]{gadd45}{212,953}{GADD45}
\GB[bg]{glk}{294,775}{GLK}\GB[bg]{hgk}{294,792}{HGK}\GB[bw]{hpk1}{293,809}{HPK1}\GB[bg]{pak12}{294,825}{PAK1/2}
\GB[bg]{mst12}{294,857}{MST1/2}\GB[bw]{gck}{294,877}{GCK}
\GB[bg]{tpl2}{346,773}{Tpl2/Cot}\GB[bg]{mekk1}{346,787}{MEKK1}\GB[bw]{mlk3}{346,809}{MLK3}\GB[bg]{mekk23}{346,825}{MEKK2/3}
\GB[bg]{lzk}{346,844}{LZK}\GB[bg]{muk}{346,855}{MUK}\GB[bg]{mltk}{346,865}{MLTK}\GB[bg]{ask2}{346,887}{ASK2}
\GB[bg]{ask1}{346,902}{ASK1}\GB[bg]{tak1}{346,918}{TAK1}\GB[bg]{mekk4}{346,952}{MEKK4}\GB[bg]{tao12}{346,966}{TAO1/2}
\GB[bg]{akt}{386,857}{AKT}\GB[bg]{pp2ca}{410,846}{PP2CA}\GB[bg]{pp2cb}{356,937}{PP2CB}\GB[bw]{pp5}{392,929}{PP5}
\GB[bg]{flna}{409,762}{FLNA}\GB[bg]{arrb}{398,773}{ARRB}\GB[bg]{jip3}{441,762}{JIP3}\GB[bg]{crkii}{429,773}{CrkII}
\GB[bw]{gstpi}{474,753}{GST$\pi$}\GB[bg]{hsp72}{481,765}{HSP72}\GB[bg]{evi1}{481,776}{Evi1}
\GB[bg]{mkk4}{403,792}{MKK4}\GB[bg]{jnk}{456,799}{JNK}\GB[bg]{mkk7}{404,809}{MKK7}\GB[bg]{jip12}{433,814}{JIP1/2}
\GB[bg]{mkk3}{405,895}{MKK3}\GB[bg]{mkk6}{404,910}{MKK6}\GB[bg]{ptp2}{444,857}{PTP}\GB[bg]{mkp2}{472,845}{MKP}
\GB[bg]{p38}{461,903}{p38}
\GB[bg]{prak}{509,930}{PRAK}\GB[bg]{mapkapk}{509,941}{MAPKAPK}\GB[bg]{msk12}{509,952}{MSK1/2}\GB[bg]{cdc25b}{509,963}{Cdc25B}
% edges panel B
\draw[dsh] (hetero.east) -- (ip3.west);
\draw[dl,rounded corners=4] (ip3.north) |- (phos.west);
\node[scir] (pcir) at (336.5,586) {};
\draw[ln] (cain) -- (cacn.west);\draw[ar] (cacn.east) -- (ca.west);
\draw[{Stealth[length=3.2pt,width=2.8pt]}-{Stealth[length=3.2pt,width=2.8pt]},ln,rounded corners=3] (ca.east) -| (rasgrf.north);
\draw[dsh,rounded corners=4] (ca.south) ++(0,12) |- (ppp3c.west);
\draw[ar] (camp.south) -- (cnrasgef.north);
\draw[ar,rounded corners=3] (camp.east) -| (pka.north);
\draw[ar] (dag.south) -- (pkc.north);
\foreach \a in {ngf,bdnf,nt34}{\draw[ar] (\a.east) -- (trkab.west);}
\draw[ar] (egf2.east) -- (egfrb.west);\draw[ar] (fgf.east) -- (fgfr.west);\draw[ar] (pdgf.east) -- (pdgfr.west);
\foreach \a in {trkab,egfrb,fgfr,pdgfr}{\draw[ln] (\a.east) -- (grb2.west);}
\draw[ln] (grb2.east) -- (sos.west);\draw[ar] (sos.east) -- (ras.west);
\draw[ar] (g12.east) -- (gap1m.west);\draw[ln] (gap1m.north east) -- (ras.south);
\draw[ln] (nf1.north west) -- (ras.south east);
\draw[ar] (rasgrp.south) -- (ras.north);\draw[ar] (cnrasgef.south) -- (ras.north east);
\draw[ar] (pkc.west) -- (ras.north east);\draw[ar] (pkc.south east) -- (raf1.north west);
\draw[ar] (ras.east) -- (raf1.west);
\draw[ar] (pka.south) -- (rap1.north);\draw[ar] (rap1.south east) -- (rafb.north);
\draw[ar] (raf1.east) -- (mek1.west);\draw[ar] (rafb.east) -- (mek1.west);
\draw[ar] (tpl2.north east) -- (mek2.south west);
\draw[ar] (mek1.south east) -- (erk.west);
\draw[inh] (ptp1.north) -- (erk.south west);\draw[inh] (mkp1.north) -- (erk.south east);
\draw[ar,rounded corners=2] (erk.north east) -- (482,692) |- (tau.west);
\draw[ar] (erk.north east) -- (stmn1.west);\draw[ar] (erk.north east) -- (cpla2.west);
\draw[ar] (erk.north east) -- (mnk12.west);\draw[ar] (erk.north east) -- (rsk2.west);
\draw[ar] (erk.east) -- (sap1a1.west);\draw[ar] (rsk2.east) -- (creb1.west);
\draw[ln] (elk1a.east) -- (srf.west);\draw[ln] (sap1a1.east) -- (srf.west);
\draw[ar] (srf.east) -- (dna1.west);\draw[ar] (dna1.east) -- (cfos.west);\draw[ar] (cfos.east) -- (dna2.west);
\draw[ar] (creb1.east) -- (dna2.north west);
\draw[dsh,shorten <=3pt] (dna2.east) -- (prolif2.west);
\draw[ar,rounded corners=5] (mekk1.north east) -- (375,782) |- (nik.west);
\draw[ar,rounded corners=5] (tak1.east) -- (375,918) |- (nlk.west);
\draw[dsh] (nik.south east) -- (nfkb.west);
\draw[dsh] (nfkb.east) -- (prolif1.west);
\draw[ar] (ppp3c.east) -- (nfat2.west);
\draw[dsh] (stress.east) -- (stressend);
\draw[dsh] (dnad.east) -- (gadd45.west);
\draw[dsh] (serum.east) -- (mek5.west);
\draw[ar] (tnfL.east) -- (tnfr.west);\draw[ar] (il1.east) -- (il1r.west);\draw[ar] (fasl.east) -- (fas2.west);
\draw[ar] (tgfb.east) -- (tgfbr.west);\draw[ar] (lps.east) -- (cd14.west);
\draw[ar] (tnfr.east) -- (casp.west);\draw[ar] (il1r.east) -- (traf2.west);
\draw[dsh] (il1r.east) -- (tab1.west);\draw[dsh] (il1r.east) -- (traf6.north west);
\draw[ar] (fas2.east) -- (daxx.west);\draw[dsh] (cd14.east) -- (tab1.west);
\draw[ar] (casp.east) -- (mst12.west);\draw[ln] (casp.east) -- (pak12.west);
\draw[ar] (cdc42.east) -- (mekk1.south west);\draw[ar] (cdc42.east) -- (pak12.west);
\draw[ln] (traf2.east) -- (mekk1.south west);\draw[ar] (traf2.east) -- (gck.west);\draw[ar] (traf2.east) -- (ask1.west);
\draw[ar] (daxx.east) -- (ask1.west);\draw[ar] (tab1.east) -- (tak1.west);\draw[ar] (traf6.east) -- (tak1.west);
\draw[ar] (gadd45.east) -- (mekk4.west);
\draw[ar] (glk.east) -- (mekk1.west);\draw[ar] (hgk.east) -- (mekk1.west);\draw[ar] (hpk1.east) -- (mlk3.west);
\draw[ar] (pak12.east) -- (mekk23.west);
\draw[ar] (mekk1.east) -- (mkk4.west);\draw[ar] (mekk1.east) -- (mkk7.west);\draw[ar] (mlk3.east) -- (mkk7.west);
\draw[ar] (mkk4.east) -- (jnk.west);\draw[ar] (mkk7.east) -- (jnk.west);
\draw[ar] (muk.east) -- (mkk7.south west);
\draw[inh] (akt.south west) -- (ask1.north east);
\draw[ar] (ask1.east) -- (mkk3.west);\draw[ar] (tak1.east) -- (mkk6.west);
\draw[ar] (mkk3.east) -- (p38.west);
\draw[inh] (pp2ca.north) -- (mkk7.south);\draw[inh] (pp2ca.south) -- (mkk3.north);
\draw[inh] (pp2cb.north) -- (tak1.south);\draw[inh] (pp5.north west) -- (ask1.south east);
\draw[inh] (ptp2.north) -- (jnk.south);\draw[inh] (ptp2.south) -- (p38.north);
\draw[inh] (mkp2.north) -- (jnk.south east);\draw[inh] (mkp2.south) -- (p38.north east);
\draw[inh] (evi1.south west) -- (jnk.north);
\draw[ar] (jnk.north east) -- (nfat4.west);\draw[ar] (jnk.east) -- (cjun.west);\draw[ar] (jnk.south east) -- (atf2.west);
\draw[ar] (p38.north east) -- (elk1b.west);\draw[ar] (p38.east) -- (gadd153.south west);
\draw[ar] (p38.south east) -- (msk12.west);
\draw[ar] (prak.east) -- (hsp27.west);\draw[ar] (mapkapk.east) -- (creb2.west);
\draw[ar,shorten >=5pt] (cjun.east) -- (dna3.west);
\draw[dsh,rounded corners=2,shorten <=10pt] (dna3.east) -| (prolif3.north);
\draw[ar,shorten >=5pt] (max.east) -- (dna4.west);
\draw[dsh,rounded corners=2,shorten <=10pt] (dna4.east) -| (apop.south);
\draw[dl] (p53.east) -- (p53sig.west);\node[scir] (pc2) at (592.5,857) {};
\draw[dl] (nlk.east) -- (wnt.west);\node[scir] (pc3) at (592.5,979) {};
\draw[ar] (mek5.east) -- (erk5.west);\draw[ar] (erk5.east) -- (nur77.west);
\draw[ar,shorten >=5pt] (nur77.east) -- (dna5.west);
\draw[dsh,shorten <=10pt] (dna5.east) -- (prolif4.west);
% +p / -p labels
\foreach \x/\y in {260/694,307/694,319/638,368/697,386/718,428/698,442/606,487/630,487/648,488/693,517/697,320/775,320/785,428/792,319/813,319/823,377/805,377/819,388/835,384/871,377/898,429/899,517/829,517/854,517/899,481/936,442/976,428/1007,517/1007,526/758}{\LB[pl]{\x,\y}{+p}}
\foreach \x/\y in {440/716,470/716,457/814,470/818,411/824,411/880,443/888,470/888,383/917,357/928,527/762}{\LB[pl]{\x,\y}{-p}}
% stars panel B
\ST{sy}{97}{702}\ST{sb}{106}{702}\ST{sr}{113}{702}
\ST{sb}{183}{702}\ST{sr}{191}{702}\ST{sb}{222}{702}\ST{sr}{230}{702}
\ST{sb}{207}{674}\ST{sr}{216}{674}\ST{sb}{293}{629}\ST{sr}{301}{629}
\ST{sr}{275}{674}\ST{sr}{332}{689}
\ST{sb}{453}{729}\ST{sr}{460}{729}\ST{sb}{449}{604}\ST{sr}{457}{604}
\ST{sb}{523}{610}\ST{sr}{531}{610}
\ST{sb}{485}{643}\ST{sr}{493}{643}\ST{sb}{487}{655}\ST{sr}{495}{655}\ST{sb}{488}{687}\ST{sr}{495}{687}
\ST{sb}{526}{708}\ST{sr}{533}{708}\ST{sy}{533}{795}\ST{sb}{526}{886}\ST{sr}{534}{886}
\ST{sr}{328}{773}\ST{sr}{328}{787}\ST{sb}{272}{792}\ST{sr}{280}{792}\ST{sb}{270}{825}\ST{sr}{277}{825}
\ST{sr}{458}{765}\ST{sb}{453}{776}\ST{sr}{461}{776}\ST{sb}{437}{799}\ST{sr}{445}{799}
\ST{sb}{363}{857}\ST{sr}{371}{857}\ST{sr}{328}{966}\ST{sr}{388}{895}
\ST{sb}{448}{845}\ST{sr}{457}{845}\ST{sb}{438}{903}\ST{sr}{446}{903}
\ST{sr}{113}{871}\ST{sb}{106}{881}\ST{sr}{115}{881}\ST{sr}{114}{897}
\ST{sb}{55}{881}\ST{sr}{63}{881}\ST{sy}{62}{908}\ST{sr}{215}{857}
\end{tikzpicture}
\end{document}
